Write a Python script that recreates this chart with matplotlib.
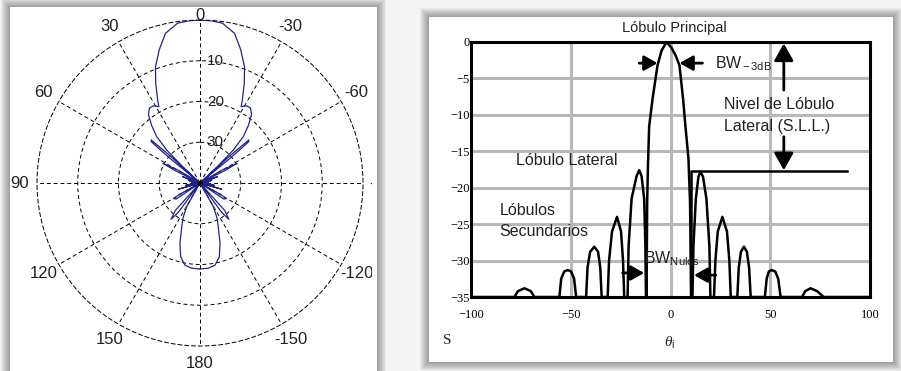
import numpy as np
import matplotlib.pyplot as plt
from matplotlib.patches import Rectangle
from matplotlib.transforms import Bbox, TransformedBbox

plt.rcParams['font.family'] = 'Liberation Sans'
plt.rcParams['mathtext.fontset'] = 'custom'
plt.rcParams['mathtext.rm'] = 'Liberation Sans'
plt.rcParams['mathtext.it'] = 'Liberation Serif:italic'

# ---- left: polar pattern (half, mirrored), angle in deg, level in dB ----
pol_ang = [0, 4, 8, 13, 17, 21, 24, 27, 28.3, 31, 34, 37, 40, 43, 45.3, 46.6, 47.2,
           47.8, 48.6, 49.7, 50.6, 51.5,
           57, 59.5, 62, 63.5, 65,
           68, 70, 72, 75, 77, 80, 82, 86, 88, 93, 95, 99, 101, 106, 109,
           116, 119, 121, 124, 127,
           135, 138, 141.4, 143.5, 146,
           148.5, 150.7, 154, 157.3, 161.6, 165.3, 169.6, 174.4, 180]
pol_db = [0, -0.1, -0.4, -2.3, -5.8, -9.5, -13.3, -17.1, -18.7, -17.9, -17.8, -19.0, -21.5, -24.4, -28.5, -34, -40,
          -30, -24, -24.4, -30, -40,
          -40, -34, -29.7, -33, -40,
          -40, -35.5, -40, -37, -40, -37.5, -40, -38, -40, -38, -40, -36.5, -40, -34.5, -40,
          -40, -34, -32.5, -33, -40,
          -40, -31, -28.6, -31, -40,
          -40, -33.3, -30.5, -28.4, -24.4, -21.3, -19.5, -19.0, -18.9]
ang_ticks = [0, 30, 60, 90, 120, 150, 180, -150, -120, -90, -60, -30]
ring_vals = [-10, -20, -30]
ring_labels = ['10', '20', '30']

# ---- right: array factor in dB vs theta ----
af_x = [-100, -78.2, -76.5, -73.2, -70, -68.2,
        -55.7, -54.8, -53.3, -51.5, -49.8, -48.3, -47.3,
        -42.3, -41.6, -40.3, -38.2, -36.3, -35.2, -34.5,
        -31.5, -30.8, -29.3, -26.8, -24.8, -23.8, -23.2,
        -21.5, -21, -19.5, -17, -15.7, -14.5, -13.2, -12.6, -12.3,
        -12, -11.7, -11.3, -10.7, -9, -6.5, -4.5, -2, 0.5, 2.5, 4.5, 6.3, 7.5, 9, 9.8, 10.3,
        11, 11.5, 12.7, 14, 15, 16.3, 18, 19.5, 20,
        21.8, 22.5, 23.7, 26, 28.3, 29.5, 30.2,
        33.5, 34.2, 35.3, 36.8, 38.3, 39.4, 40.2,
        47.3, 48.2, 49.3, 50.7, 52.5, 54, 55.2,
        66, 67.5, 70.2, 73.5, 76.8, 100]
af_db = [-35, -35, -34.2, -33.8, -34.2, -35,
         -35, -32.5, -31.5, -31.3, -31.5, -32.5, -35,
         -35, -31, -28.8, -28.1, -28.8, -31, -35,
         -35, -30, -26, -24, -26, -30, -35,
         -35, -28, -21.5, -18.4, -17.6, -18.4, -21.5, -28, -35,
         -35, -22, -17, -11.6, -7.8, -3.2, -1.2, 0, -0.8, -1.8, -3.2, -7.8, -11.6, -16, -22, -35,
         -35, -28, -21.5, -18.5, -17.8, -18.5, -21.5, -28, -35,
         -35, -30, -26, -24, -26, -30, -35,
         -35, -31, -28.8, -28.1, -28.8, -31, -35,
         -35, -32.5, -31.5, -31.3, -31.5, -32.5, -35,
         -35, -34.2, -33.8, -34.2, -35, -35]
x_ticks = [-100, -50, 0, 50, 100]
y_ticks = [0, -5, -10, -15, -20, -25, -30, -35]

W, H = 901, 371
fig = plt.figure(figsize=(W / 100, H / 100), dpi=100, facecolor='#f5f5f5')


def frect(x0, y0, x1, y1):
    return [x0 / W, 1 - y1 / H, (x1 - x0) / W, (y1 - y0) / H]


def panel(x0, y0, x1, y1):
    for k in range(9, 0, -1):
        l, b, w, h = frect(x0 - k, y0 - k, x1 + k, y1 + k)
        fig.add_artist(Rectangle((l, b), w, h, transform=fig.transFigure,
                                 color='k', alpha=0.045, lw=0, zorder=-10))
    l, b, w, h = frect(x0, y0, x1, y1)
    fig.add_artist(Rectangle((l, b), w, h, transform=fig.transFigure,
                             color='white', lw=0, zorder=-9))


panel(10, 7, 377, 380)
panel(429, 17, 893, 362)

# ---------- polar ----------
cx, cy, R = 200, 183, 163
ax1 = fig.add_axes(frect(cx - R, cy - R, cx + R, cy + R), projection='polar')
ax1.set_facecolor('none')
ax1.set_theta_zero_location('N')
ax1.set_theta_direction(1)
ax1.set_ylim(-40, 0)
ax1.set_yticks(ring_vals)
ax1.set_yticklabels([])
ax1.set_xticks(np.deg2rad(np.arange(0, 360, 30)))
ax1.set_xticklabels([])
ax1.grid(True, color='k', ls=(0, (4, 3)), lw=0.7)
ax1.spines['polar'].set_linestyle((0, (4, 3)))
ax1.spines['polar'].set_linewidth(0.7)

th = np.deg2rad(pol_ang)
ax1.plot(th, pol_db, color='#23238f', lw=0.9)
ax1.plot(-th, pol_db, color='#23238f', lw=0.9)
ax1.plot([0], [-40], 'o', color='k', ms=3)

clip = TransformedBbox(Bbox.from_extents(10 / W, 0, 372 / W, 1 - 7 / H), fig.transFigure)
for a in ang_ticks:
    rr = -40 + 40 * (1.03 if a == 0 else 1.11)
    t = ax1.text(np.deg2rad(a), rr, str(a), ha='center', va='center',
                 fontsize=12, color='#222222', clip_on=True)
    t.set_clip_path(None)
    t.set_clip_box(clip)
for v, lab in zip(ring_vals, ring_labels):
    ax1.annotate(lab, xy=(0, v), xytext=(5, 0), textcoords='offset points',
                 ha='left', va='center', fontsize=11, color='#222222')

# ---------- rectangular ----------
ax2 = fig.add_axes(frect(471, 42, 870, 297))
ax2.set_xlim(-100, 100)
ax2.set_ylim(-35, 0)
ax2.set_xticks(x_ticks)
ax2.set_yticks(y_ticks)
ax2.grid(True, color='#b8b8b8', lw=2.2)
ax2.set_axisbelow(True)
for s in ax2.spines.values():
    s.set_linewidth(2.2)
ax2.tick_params(length=0, labelsize=9)
ax2.tick_params(axis='x', pad=9)
ax2.tick_params(axis='y', pad=1)
for lab in ax2.get_xticklabels() + ax2.get_yticklabels():
    lab.set_family('Liberation Serif')

ax2.plot(af_x, af_db, color='k', lw=1.8)
ax2.plot([-12.2, -12.2], [-35, -23.5], color='k', lw=2)
ax2.plot([10.2, 10.2, 88.5], [-35, -17.65, -17.65], color='k', lw=1.8)

def arrow(p0, p1, ms=10):
    ax2.annotate('', xy=p1, xytext=p0,
                 arrowprops=dict(arrowstyle='-|>,head_length=0.8,head_width=0.45',
                                 color='k', lw=2, mutation_scale=ms,
                                 shrinkA=0, shrinkB=0))

arrow((-15.7, -2.9), (-6.5, -2.9))
arrow((16, -2.9), (4.5, -2.9))
arrow((56.8, -6.6), (56.8, -0.2), 13)
arrow((56.8, -13), (56.8, -17.6), 13)
arrow((-24, -31.7), (-13.2, -31.7))
arrow((22.7, -32), (11.8, -32))

tc = '#222222'
ax2.text(2, 1.9, 'Lóbulo Principal', ha='center', va='center', fontsize=10.5, color=tc, clip_on=False)
ax2.text(22.5, -3, r'BW$_{\rm -3dB}$', ha='left', va='center', fontsize=11.5, color=tc)
ax2.text(26.8, -8.6, 'Nivel de Lóbulo', ha='left', va='center', fontsize=11.5, color=tc)
ax2.text(26.8, -11.6, 'Lateral (S.L.L.)', ha='left', va='center', fontsize=11.5, color=tc)
ax2.text(-77.3, -16.2, 'Lóbulo Lateral', ha='left', va='center', fontsize=11.5, color=tc)
ax2.text(-85.7, -23.1, 'Lóbulos', ha='left', va='center', fontsize=11.5, color=tc)
ax2.text(-85.7, -26.0, 'Secundarios', ha='left', va='center', fontsize=11.5, color=tc)
ax2.text(-13.2, -29.7, r'BW$_{\rm Nulos}$', ha='left', va='center', fontsize=11.5, color=tc)

fig.text(447 / W, 1 - 340 / H, 'S', ha='center', va='center', fontsize=11,
         family='Liberation Serif', color=tc)
fig.text(670 / W, 1 - 343 / H, r'$\theta_{\rm i}$', ha='center', va='center', fontsize=11, color=tc)

fig.savefig('out.png', dpi=100, facecolor=fig.get_facecolor())
